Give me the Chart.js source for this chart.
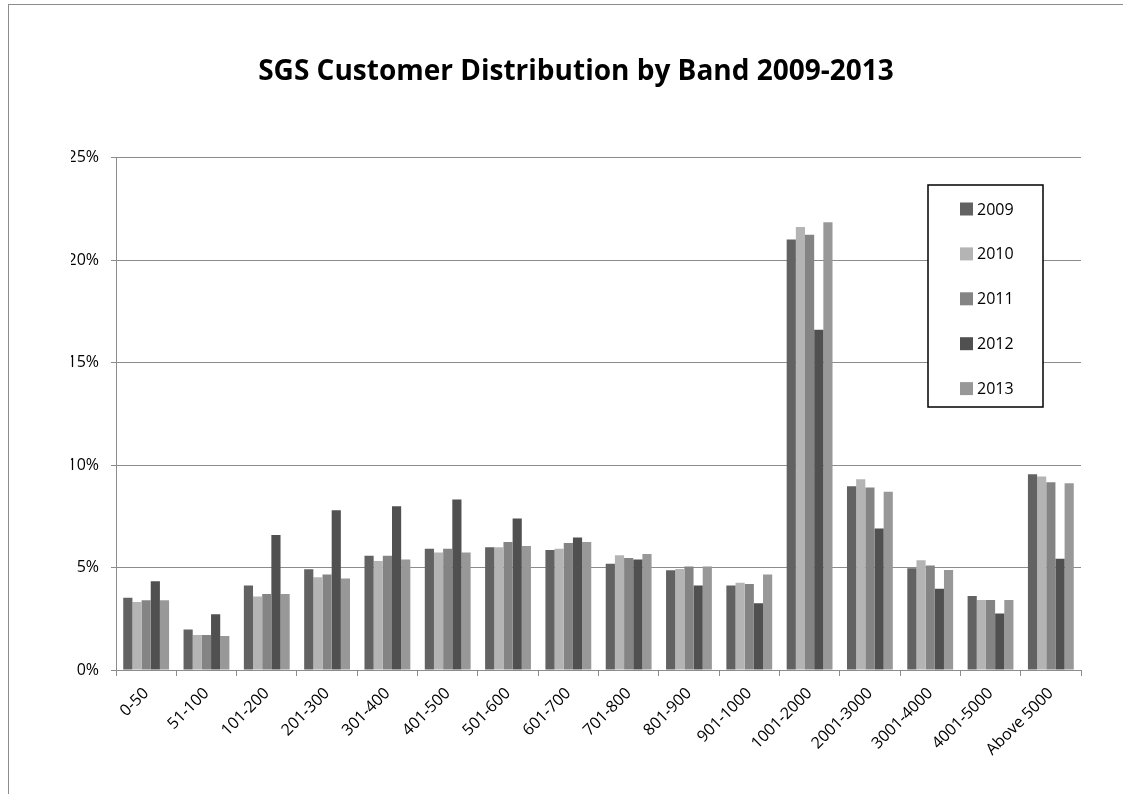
<!DOCTYPE html>
<html>
<head>
<meta charset="utf-8">
<script src="https://cdn.jsdelivr.net/npm/chart.js@4"></script>
<style>
  html, body { margin: 0; padding: 0; background: #fff; overflow: hidden; }
  #wrap { position: relative; width: 1123px; height: 794px; }
  #frame { position: absolute; left: 8px; top: 4px; width: 2000px; height: 2000px;
           border-left: 1px solid #8c8c8c; border-top: 1px solid #8c8c8c; pointer-events: none; }
  canvas { position: absolute; left: 0; top: 0; }
</style>
</head>
<body>
<div id="wrap">
  <div id="frame"></div>
  <canvas id="c" width="1123" height="794"></canvas>
</div>
<script>
const titleText = 'SGS Customer Distribution by Band 2009-2013';
const categories = ['0-50','51-100','101-200','201-300','301-400','401-500','501-600','601-700','701-800','801-900','901-1000','1001-2000','2001-3000','3001-4000','4001-5000','Above 5000'];
const seriesNames = ['2009','2010','2011','2012','2013'];
const values2009 = [3.52, 1.98, 4.12, 4.92, 5.58, 5.92, 5.99, 5.86, 5.19, 4.87, 4.12, 21.00, 8.96, 4.97, 3.61, 9.55];
const values2010 = [3.32, 1.71, 3.58, 4.52, 5.32, 5.73, 5.99, 5.92, 5.60, 4.93, 4.26, 21.62, 9.31, 5.36, 3.42, 9.44];
const values2011 = [3.40, 1.71, 3.71, 4.66, 5.58, 5.92, 6.25, 6.20, 5.47, 5.05, 4.20, 21.24, 8.91, 5.10, 3.42, 9.16];
const values2012 = [4.33, 2.72, 6.59, 7.80, 7.99, 8.32, 7.39, 6.46, 5.39, 4.12, 3.26, 16.60, 6.90, 3.96, 2.76, 5.43];
const values2013 = [3.40, 1.66, 3.71, 4.46, 5.39, 5.73, 6.05, 6.25, 5.66, 5.05, 4.66, 21.84, 8.70, 4.88, 3.42, 9.11];
const yTicks = [0, 5, 10, 15, 20, 25];

const seriesValues = [values2009, values2010, values2011, values2012, values2013];
const seriesColors = ['#626262', '#b4b4b4', '#848484', '#505050', '#989898'];

const FONT = "'Open Sans', 'DejaVu Sans', sans-serif";

const legendPlugin = {
  id: 'boxLegend',
  afterDraw(chart) {
    const ctx = chart.ctx;
    const x0 = 928, y0 = 185, w = 115, h = 222;
    ctx.save();
    ctx.fillStyle = '#ffffff';
    ctx.fillRect(x0, y0, w, h);
    ctx.strokeStyle = '#000000';
    ctx.lineWidth = 1.5;
    ctx.strokeRect(x0, y0, w, h);
    ctx.font = "16px " + FONT;
    ctx.textBaseline = 'middle';
    ctx.textAlign = 'left';
    chart.data.datasets.forEach((ds, i) => {
      const cy = 209 + i * 44.9;
      ctx.fillStyle = ds.backgroundColor;
      ctx.fillRect(960, cy - 6.5, 13, 13);
      ctx.fillStyle = '#000000';
      ctx.fillText(ds.label, 977, cy + 1);
    });
    ctx.restore();
  }
};

new Chart(document.getElementById('c'), {
  type: 'bar',
  data: {
    labels: categories,
    datasets: seriesNames.map((name, i) => ({
      label: name,
      data: seriesValues[i],
      backgroundColor: seriesColors[i],
      borderWidth: 0,
      categoryPercentage: 0.76,
      barPercentage: 1.0
    }))
  },
  options: {
    responsive: false,
    animation: false,
    devicePixelRatio: 1,
    layout: { padding: { left: 71, right: 42, top: 0, bottom: 0 } },
    plugins: {
      legend: { display: false },
      tooltip: { enabled: false },
      title: {
        display: true,
        text: titleText,
        color: '#000000',
        font: { family: FONT, size: 28, weight: 'bold', lineHeight: 1.2 },
        padding: { top: 55, bottom: 69 }
      }
    },
    scales: {
      x: {
        grid: { display: true, drawOnChartArea: false, drawTicks: true, tickLength: 6, color: '#8c8c8c', offset: true },
        border: { display: true, color: '#8c8c8c', width: 1 },
        ticks: { color: '#000000', font: { family: FONT, size: 16 }, maxRotation: 45, minRotation: 45, autoSkip: false, padding: 8 },
        afterFit(s) { s.height = 124; }
      },
      y: {
        min: 0, max: 25,
        afterBuildTicks(s) { s.ticks = yTicks.map(v => ({ value: v })); },
        grid: { color: '#8c8c8c', lineWidth: 1, drawTicks: true, tickLength: 5 },
        border: { display: true, color: '#8c8c8c', width: 1 },
        ticks: { color: '#000000', font: { family: FONT, size: 16 }, padding: 12, callback: v => v + '%' },
        afterFit(s) { s.width = 45; }
      }
    }
  },
  plugins: [legendPlugin]
});
</script>
</body>
</html>
